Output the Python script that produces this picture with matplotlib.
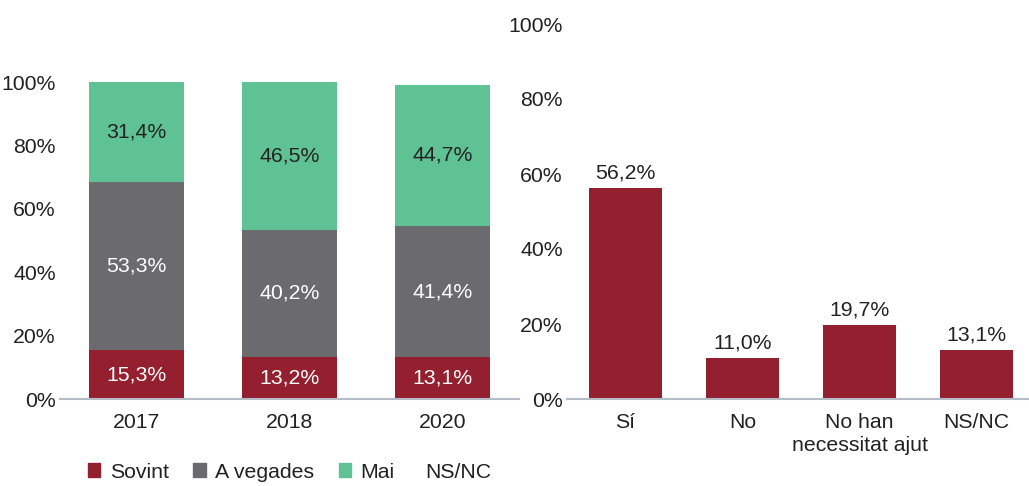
import numpy as np
import matplotlib.pyplot as plt
from matplotlib.patches import Patch

plt.rcParams['font.family'] = ['Liberation Sans', 'DejaVu Sans']

# data
years = ['2017', '2018', '2020']
sovint = [15.3, 13.2, 13.1]
a_vegades = [53.3, 40.2, 41.4]
mai = [31.4, 46.5, 44.7]

cats = ['Sí', 'No', 'No han\nnecessitat ajut', 'NS/NC']
vals = [56.2, 11.0, 19.7, 13.1]

red = '#941f2e'
grey = '#6b6b6f'
green = '#5fc295'
axcol = '#b4bcc6'
txt = '#222222'
fs = 15.3
W, H = 1029, 486

fig = plt.figure(figsize=(W/100, H/100), dpi=100)

def setup(ax):
    for s in ['top', 'right', 'left']:
        ax.spines[s].set_visible(False)
    ax.spines['bottom'].set_color(axcol)
    ax.spines['bottom'].set_linewidth(1.5)
    ax.tick_params(length=0, labelsize=fs, colors=txt)
    ax.tick_params(axis='x', pad=10)
    ax.tick_params(axis='y', pad=3)
    ax.set_yticks(np.arange(0, 101, 20))
    ax.set_yticklabels([f'{t}%' for t in range(0, 101, 20)])
    ax.set_ylim(0, 100)

# left: stacked bars
ax1 = fig.add_axes([60/W, (H-399)/H, 459/W, 317/H])
x = np.arange(len(years))
bw = 0.62
b1 = ax1.bar(x, sovint, bw, color=red)
b2 = ax1.bar(x, a_vegades, bw, bottom=sovint, color=grey)
bot = np.array(sovint) + np.array(a_vegades)
b3 = ax1.bar(x, mai, bw, bottom=bot, color=green)
for bars, vs, c in [(b1, sovint, 'white'), (b2, a_vegades, 'white'), (b3, mai, txt)]:
    ax1.bar_label(bars, labels=[f'{v:.1f}%'.replace('.', ',') for v in vs],
                  label_type='center', color=c, fontsize=fs)
ax1.set_xlim(-0.5, 2.5)
ax1.set_xticks(x)
ax1.set_xticklabels(years)
setup(ax1)

# right: simple bars
ax2 = fig.add_axes([567/W, (H-399)/H, 468/W, 375/H])
x2 = np.arange(len(cats))
b = ax2.bar(x2, vals, 0.63, color=red)
ax2.bar_label(b, labels=[f'{v:.1f}%'.replace('.', ',') for v in vals],
              padding=4, color=txt, fontsize=fs)
ax2.set_xlim(-0.5, 3.5)
ax2.set_xticks(x2)
ax2.set_xticklabels(cats, linespacing=1.3)
setup(ax2)

# legend
handles = [Patch(color=red), Patch(color=grey), Patch(color=green)]
fig.legend(handles, ['Sovint', 'A vegades', 'Mai'], ncol=3, frameon=False,
           loc='center left', bbox_to_anchor=(88/W, (H-472)/H),
           borderaxespad=0, borderpad=0,
           fontsize=fs, handlelength=0.58, handleheight=0.58,
           handletextpad=0.45, columnspacing=1.15, labelcolor=txt)
fig.text(425/W, (H-472)/H, 'NS/NC', fontsize=fs, color=txt, va='center')

plt.savefig('out.png', dpi=100)
